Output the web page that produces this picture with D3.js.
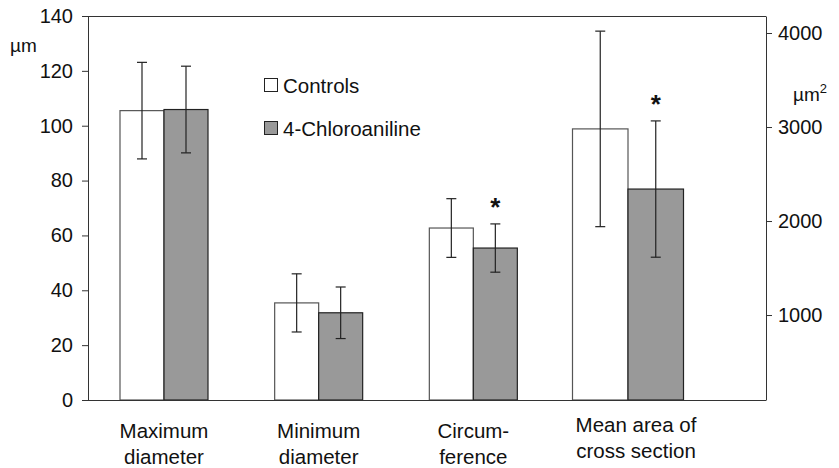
<!DOCTYPE html>
<html>
<head>
<meta charset="utf-8">
<script src="https://cdn.jsdelivr.net/npm/d3@7"></script>
<style>
  body { margin: 0; background: #fff; }
  svg { font-family: "Liberation Sans", Arial, sans-serif; }
</style>
</head>
<body>
<div id="chart"></div>
<script>
// data
const categories = ["Maximum diameter", "Minimum diameter", "Circumference", "Mean area of cross section"];
const labelLines = [["Maximum", "diameter"], ["Minimum", "diameter"], ["Circum-", "ference"], ["Mean area of", "cross section"]];
const axisSide = ["left", "left", "left", "right"];
const controls = [105.5, 35.4, 62.7, 2980];
const controlsSD = [17.6, 10.6, 10.7, 1040];
const chloro = [105.9, 31.8, 55.4, 2340];
const chloroSD = [15.8, 9.4, 8.8, 725];
const significant = [false, false, true, true];
const leftTicks = [0, 20, 40, 60, 80, 100, 120, 140];
const rightTicks = [1000, 2000, 3000, 4000];
const seriesNames = ["Controls", "4-Chloroaniline"];

const width = 839, height = 468;
const margins = { top: 16, bottom: 68, left: 88, right: 73 };
const innerBottom = height - margins.bottom;
const innerRight = width - margins.right;

const svg = d3.select("#chart").append("svg")
    .attr("width", width)
    .attr("height", height);

// scales
const yLeft = d3.scaleLinear().domain([0, 140]).range([innerBottom, margins.top]);
const yRight = d3.scaleLinear().domain([96, 4181]).range([innerBottom, margins.top]);
const xScale = d3.scalePoint().domain(categories).range([164, 628]);

const yFor = i => axisSide[i] === "right" ? yRight : yLeft;
const barW = i => axisSide[i] === "right" ? 55.5 : 44;

// top frame line
svg.append("line")
    .attr("x1", margins.left).attr("x2", innerRight)
    .attr("y1", margins.top + 0.5).attr("y2", margins.top + 0.5)
    .attr("stroke", "#333").attr("stroke-width", 1);

// axes
const leftAxis = svg.append("g")
    .attr("transform", `translate(${margins.left},0)`)
    .call(d3.axisLeft(yLeft).tickValues(leftTicks).tickSizeInner(6).tickSizeOuter(0).tickPadding(9));

const rightAxis = svg.append("g")
    .attr("transform", `translate(${innerRight},0)`)
    .call(d3.axisRight(yRight).tickValues(rightTicks).tickFormat(d3.format("d"))
        .tickSizeInner(6).tickSizeOuter(0).tickPadding(6));

[leftAxis, rightAxis].forEach(g => {
    g.selectAll(".domain").attr("stroke", "#333");
    g.selectAll(".tick line").attr("stroke", "#333");
    g.selectAll("text")
        .attr("font-family", "Liberation Sans, Arial, sans-serif")
        .attr("font-size", 20)
        .attr("fill", "#111");
});

// unit labels
svg.append("text").attr("x", 10).attr("y", 52)
    .attr("font-size", 19).attr("fill", "#111").text("µm");
const ru = svg.append("text").attr("x", 793).attr("y", 101)
    .attr("font-size", 19).attr("fill", "#111");
ru.append("tspan").text("µm");
ru.append("tspan").attr("font-size", 13).attr("dy", -8).text("2");

// bars
const barsGroup = svg.append("g");
categories.forEach((c, i) => {
    const cx = xScale(c);
    const w = barW(i);
    const y = yFor(i);
    const groups = [
        { v: controls[i], sd: controlsSD[i], x0: cx - w, fill: "#ffffff", stroke: "#555" },
        { v: chloro[i], sd: chloroSD[i], x0: cx, fill: "#999999", stroke: "#222" }
    ];
    groups.forEach(g => {
        barsGroup.append("rect")
            .attr("x", g.x0)
            .attr("y", y(g.v))
            .attr("width", w)
            .attr("height", y.range()[0] - y(g.v))
            .attr("fill", g.fill)
            .attr("stroke", g.stroke)
            .attr("stroke-width", 1.2);
    });
    groups.forEach(g => {
        const ex = g.x0 + w / 2;
        const top = y(g.v + g.sd), bot = y(g.v - g.sd);
        barsGroup.append("line")
            .attr("x1", ex).attr("x2", ex).attr("y1", top).attr("y2", bot)
            .attr("stroke", "#222").attr("stroke-width", 1.2);
        [top, bot].forEach(yy => {
            barsGroup.append("line")
                .attr("x1", ex - 5).attr("x2", ex + 5).attr("y1", yy).attr("y2", yy)
                .attr("stroke", "#222").attr("stroke-width", 1.2);
        });
    });
    if (significant[i]) {
        barsGroup.append("text")
            .attr("x", cx + w / 2)
            .attr("y", y(chloro[i] + chloroSD[i]) - 8)
            .attr("text-anchor", "middle")
            .attr("font-size", 26)
            .attr("font-weight", "bold")
            .attr("fill", "#111")
            .text("*");
    }
});

// baseline
svg.append("line")
    .attr("x1", margins.left).attr("x2", innerRight)
    .attr("y1", innerBottom + 0.5).attr("y2", innerBottom + 0.5)
    .attr("stroke", "#333").attr("stroke-width", 1.2);

// category labels
categories.forEach((c, i) => {
    const lx = xScale(c) + (axisSide[i] === "right" ? 8 : 0);
    const t = svg.append("text")
        .attr("x", lx)
        .attr("y", axisSide[i] === "right" ? 432 : 438)
        .attr("text-anchor", "middle")
        .attr("font-size", 20.5)
        .attr("fill", "#111");
    labelLines[i].forEach((line, j) => {
        t.append("tspan").attr("x", lx).attr("dy", j === 0 ? 0 : 26).text(line);
    });
});

// legend
const legend = svg.append("g").attr("transform", "translate(264,78)");
seriesNames.forEach((name, i) => {
    legend.append("rect")
        .attr("x", 0.5).attr("y", i * 43 + 0.5)
        .attr("width", 13).attr("height", 13)
        .attr("fill", i === 0 ? "#fff" : "#999999")
        .attr("stroke", "#222");
    legend.append("text")
        .attr("x", 19).attr("y", i * 43 + 7)
        .attr("dominant-baseline", "central")
        .attr("font-size", 20.5)
        .attr("fill", "#111")
        .text(name);
});
</script>
</body>
</html>
